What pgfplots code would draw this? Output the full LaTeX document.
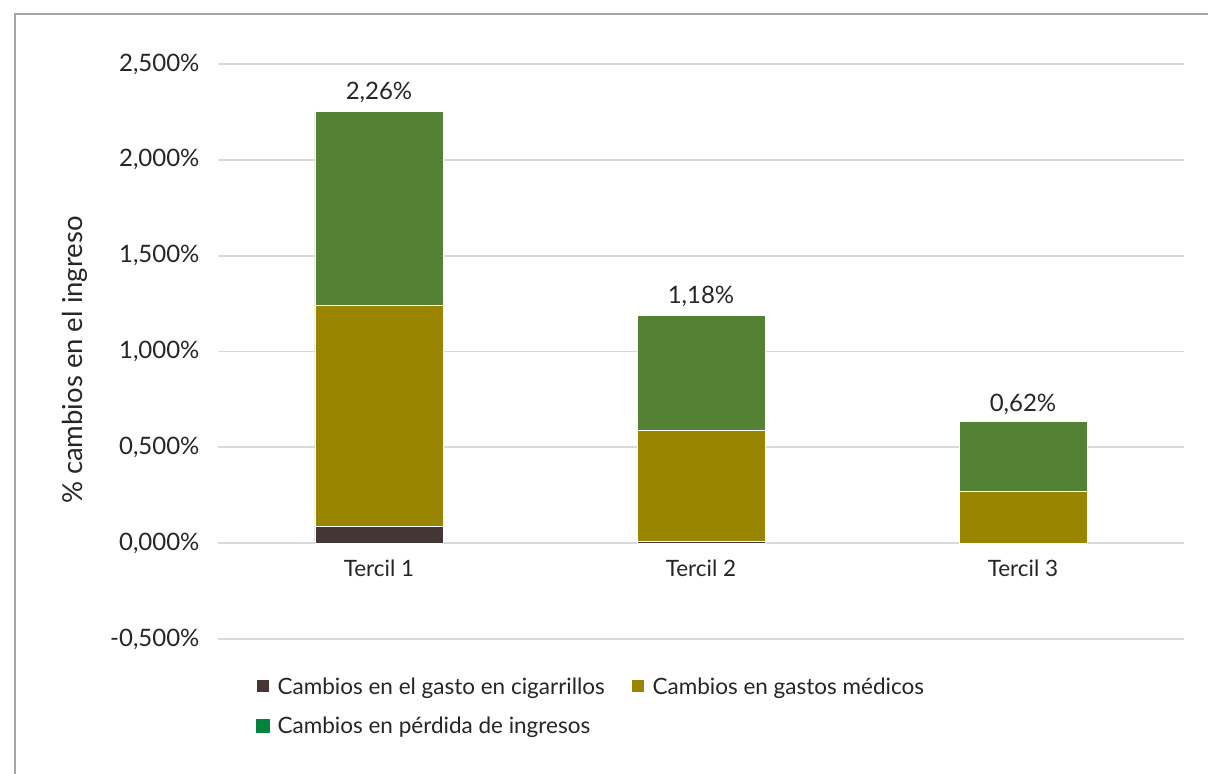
\documentclass[border=0pt]{standalone}
\usepackage{fontspec}
\setmainfont{Lato}
\usepackage{pgfplots}
\pgfplotsset{compat=1.18}
\definecolor{cig}{HTML}{453636}
\definecolor{med}{HTML}{998500}
\definecolor{ing}{HTML}{548235}
\definecolor{ingleg}{HTML}{00843D}
\definecolor{gridc}{HTML}{D9D9D9}
\definecolor{txt}{HTML}{262626}
\definecolor{framec}{HTML}{A6A6A6}
\begin{document}
\begin{tikzpicture}
% axis origin (0,0) sits at pixel (218,639) of the reference
\path[use as bounding box] (-218pt,639pt) rectangle (990pt,-135pt);
\draw[framec, line width=1.5pt] (-203pt,-135pt) -- (-203pt,625pt) -- (990pt,625pt);
\begin{axis}[
    scale only axis, width=966pt, height=575pt,
    xmin=-0.5, xmax=2.5, ymin=-0.5, ymax=2.5,
    ybar stacked, bar width=128pt,
    axis x line=middle, x axis line style={draw=none},
    axis y line=left, y axis line style={draw=none},
    major tick length=0pt,
    xtick={0,1,2}, xticklabels={Tercil 1,Tercil 2,Tercil 3},
    ytick={-0.5,0,0.5,1,1.5,2,2.5},
    yticklabel={\pgfmathprintnumber[fixed,fixed zerofill,precision=3,use comma,assume math mode=true]{\tick}\%},
    x tick label style={font=\fontsize{22.5}{27}\selectfont, text=txt, yshift=-13pt},
    y tick label style={font=\fontsize{24}{28}\selectfont, text=txt, xshift=-15pt},
    ymajorgrids, grid style={gridc, line width=1.8pt},
    ylabel={\% cambios en el ingreso},
    ylabel style={at={(axis description cs:-0.148,0.485)}, anchor=center, font=\fontsize{27.5}{32}\selectfont, text=txt},
    legend style={draw=none, at={(rel axis cs:0.036,-0.06)}, anchor=north west,
        font=\fontsize{22.5}{27}\selectfont, text=txt, row sep=17pt,
        /tikz/every even column/.append style={column sep=24pt}},
    legend columns=2, legend cell align=left,
    legend image code/.code={\fill[#1] (0pt,-6pt) rectangle (13pt,7pt); \path (19pt,0pt);},
    every axis plot/.append style={draw=white, line width=0.6pt},
]
\addplot[fill=cig] coordinates {(0,0.088) (1,0.008) (2,-0.008)};
\addlegendentry{Cambios en el gasto en cigarrillos}
\addplot[fill=med] coordinates {(0,1.153) (1,0.582) (2,0.269)};
\addlegendentry{Cambios en gastos médicos}
\addplot[fill=ing, legend image code/.code={\fill[ingleg] (0pt,-6pt) rectangle (13pt,7pt); \path (19pt,0pt);}] coordinates {(0,1.013) (1,0.600) (2,0.365)};
\addlegendentry{Cambios en pérdida de ingresos}
\node[above, yshift=5pt, font=\fontsize{24}{28}\selectfont, text=txt] at (axis cs:0,2.255) {2,26\%};
\node[above, yshift=5pt, font=\fontsize{24}{28}\selectfont, text=txt] at (axis cs:1,1.190) {1,18\%};
\node[above, yshift=5pt, font=\fontsize{24}{28}\selectfont, text=txt] at (axis cs:2,0.626) {0,62\%};
\end{axis}
\end{tikzpicture}
\end{document}
